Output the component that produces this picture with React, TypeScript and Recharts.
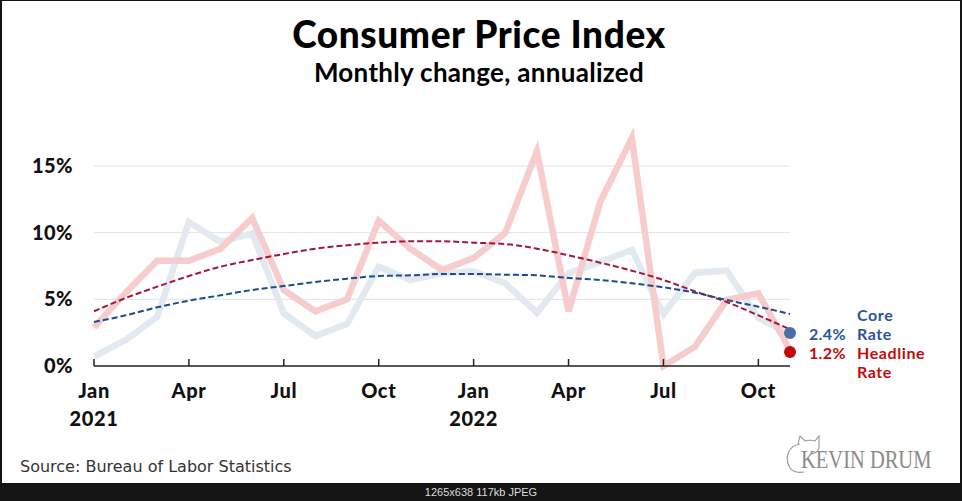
import React from 'react';
import { LineChart, Line, XAxis, YAxis, CartesianGrid } from 'recharts';

// Jan 2021 - Nov 2022, monthly CPI change, annualized (%)
const monthNames = [
  'Jan', 'Feb', 'Mar', 'Apr', 'May', 'Jun', 'Jul', 'Aug', 'Sep', 'Oct', 'Nov', 'Dec',
  'Jan', 'Feb', 'Mar', 'Apr', 'May', 'Jun', 'Jul', 'Aug', 'Sep', 'Oct', 'Nov',
];
const years = [
  '2021', '2021', '2021', '2021', '2021', '2021', '2021', '2021', '2021', '2021', '2021', '2021',
  '2022', '2022', '2022', '2022', '2022', '2022', '2022', '2022', '2022', '2022', '2022',
];
const headline = [2.9, 5.5, 7.9, 7.9, 8.8, 11.1, 5.7, 4.1, 5.0, 10.9, 8.8, 7.2, 8.1, 10.0, 16.1, 4.1, 12.3, 17.1, 0.0, 1.45, 4.95, 5.45, 1.2];
const core = [0.7, 1.95, 3.7, 10.8, 9.3, 9.95, 3.95, 2.25, 3.15, 7.45, 6.45, 6.95, 7.1, 6.2, 4.0, 6.95, 7.8, 8.7, 3.9, 7.0, 7.15, 3.6, 2.4];
const headlineTrend = [4.1, 5.1, 5.95, 6.75, 7.45, 7.95, 8.4, 8.8, 9.05, 9.25, 9.35, 9.35, 9.25, 9.15, 8.8, 8.3, 7.75, 7.15, 6.45, 5.6, 4.8, 3.8, 2.75];
const coreTrend = [3.3, 3.8, 4.4, 4.9, 5.3, 5.7, 6.0, 6.3, 6.55, 6.75, 6.8, 6.9, 6.9, 6.85, 6.8, 6.6, 6.45, 6.2, 5.9, 5.5, 4.95, 4.45, 3.9];
const xTicks = [0, 3, 6, 9, 12, 15, 18, 21];
const yTicks = [0, 5, 10, 15];
const gridValues = [5, 10, 15];

const data = monthNames.map((m, i) => ({
  i,
  month: m,
  year: years[i],
  headline: headline[i],
  core: core[i],
  headlineTrend: headlineTrend[i],
  coreTrend: coreTrend[i],
}));

const last = data.length - 1;
const FONT = 'Lato, "Noto Sans", sans-serif';

const MonthTick = (props: any) => {
  const { x, y, payload } = props;
  const i = payload.value as number;
  return (
    <g>
      <line x1={x} x2={x} y1={y} y2={y - 7} stroke="#222" strokeWidth={1.5} />
      <text x={x} y={y + 24} textAnchor="middle" dominantBaseline="central"
        fontFamily={FONT} fontWeight={900} fontSize={20} fill="#111" letterSpacing={0.6}>
        {monthNames[i]}
      </text>
      {monthNames[i] === 'Jan' && (
        <text x={x} y={y + 52} textAnchor="middle" dominantBaseline="central"
          fontFamily={FONT} fontWeight={900} fontSize={20} fill="#111" letterSpacing={0.6}>
          {years[i]}
        </text>
      )}
    </g>
  );
};

// end-of-series marker with value and series name (shift nudges the text apart)
const endDot = (dotColor: string, textColor: string, lines: string[], offset: number, shift: number) => (props: any) => {
  const { cx, cy, index, value } = props;
  if (index !== last) return <g key={index} />;
  const v = Array.isArray(value) ? value[1] : value;
  const ty = cy + shift;
  return (
    <g key={index}>
      <circle cx={cx} cy={ty} r={6} fill={dotColor} />
      <text x={cx + 56} y={ty} textAnchor="end" dominantBaseline="central"
        fontFamily={FONT} fontWeight={700} fontSize={16} fill={textColor} letterSpacing={0.4}>
        {v.toFixed(1)}%
      </text>
      {lines.map((t, k) => (
        <text key={t + k} x={cx + 67} y={ty + (k + offset) * 19} dominantBaseline="central"
          fontFamily={FONT} fontWeight={700} fontSize={16} fill={textColor} letterSpacing={0.6}>
          {t}
        </text>
      ))}
    </g>
  );
};

export default function App() {
  return (
    <div style={{ position: 'absolute', left: 0, top: 0, width: 962, height: 501, background: '#141414' }}>
      <div style={{ position: 'absolute', left: 2, top: 1, width: 958, height: 482, background: '#fff' }} />
      <div style={{ position: 'absolute', left: 0, top: 12, width: 958, textAlign: 'center',
        fontFamily: FONT, fontWeight: 900, fontSize: 37, color: '#000', lineHeight: '44px', letterSpacing: 0.6 }}>
        Consumer Price Index
      </div>
      <div style={{ position: 'absolute', left: 0, top: 57, width: 958, textAlign: 'center',
        fontFamily: FONT, fontWeight: 700, fontSize: 26, color: '#000', lineHeight: '30px', letterSpacing: 0.3 }}>
        Monthly change, annualized
      </div>
      <div style={{ position: 'absolute', left: 0, top: 0 }}>
        <LineChart width={962} height={501} data={data} margin={{ top: 126, right: 172, bottom: 0, left: 0 }}>
          <CartesianGrid vertical={false} horizontalValues={gridValues} stroke="#e2e2e2" strokeWidth={1} />
          <XAxis dataKey="i" type="number" domain={[0, 22]} ticks={xTicks} height={135}
            axisLine={{ stroke: '#222', strokeWidth: 1.5 }} tickLine={false} tickSize={0} tickMargin={0}
            tick={<MonthTick />} interval={0} />
          <YAxis type="number" domain={[0, 18]} ticks={yTicks} width={94} axisLine={false} tickLine={false}
            tickSize={0} tickMargin={21} tickFormatter={(v: number) => `${v}%`}
            tick={{ fill: '#111', fontSize: 20, fontWeight: 900, fontFamily: FONT, letterSpacing: 0.4 }} />
          <Line dataKey="core" type="linear" stroke="#e3e9f1" strokeWidth={6.5} strokeLinejoin="miter"
            dot={endDot('#4a6ea8', '#2a5597', ['Core', 'Rate'], -1, -1)} isAnimationActive={false} />
          <Line dataKey="headline" type="linear" stroke="#f7cccc" strokeWidth={6.5} strokeLinejoin="miter"
            dot={endDot('#c40a0a', '#c40a0a', ['Headline', 'Rate'], 0, 2)} isAnimationActive={false} />
          <Line dataKey="headlineTrend" type="monotone" stroke="#a3173f" strokeWidth={2} strokeDasharray="6 3"
            dot={false} isAnimationActive={false} />
          <Line dataKey="coreTrend" type="monotone" stroke="#1c4c8f" strokeWidth={2} strokeDasharray="6 3"
            dot={false} isAnimationActive={false} />
        </LineChart>
      </div>
      <div style={{ position: 'absolute', left: 20, top: 456, fontFamily: '"DejaVu Sans", sans-serif',
        fontSize: 16, color: '#333', lineHeight: '22px' }}>
        Source: Bureau of Labor Statistics
      </div>
      <svg style={{ position: 'absolute', left: 780, top: 428 }} width={40} height={46}>
        <path d="M 20 16 C 8 18 4 30 10 40 C 13 44 18 45 24 44" fill="none" stroke="#9a9a9a" strokeWidth={1.2} />
        <path d="M 18 16 L 20 8 L 25 13 C 29 12 32 12 35 13 L 39 8 L 39 17 C 40 22 36 26 30 26"
          fill="none" stroke="#9a9a9a" strokeWidth={1.1} />
      </svg>
      <div style={{ position: 'absolute', left: 801, top: 446, fontFamily: '"Liberation Serif", serif',
        fontSize: 25, color: '#8a8a8a', lineHeight: '28px', transform: 'scaleX(0.82)', transformOrigin: 'left top',
        whiteSpace: 'nowrap' }}>
        KEVIN DRUM
      </div>
      <div style={{ position: 'absolute', left: 0, top: 485, width: 962, textAlign: 'center',
        fontFamily: '"Liberation Sans", Arial, sans-serif', fontSize: 11, color: '#ddd', lineHeight: '14px' }}>
        1265x638 117kb JPEG
      </div>
    </div>
  );
}
